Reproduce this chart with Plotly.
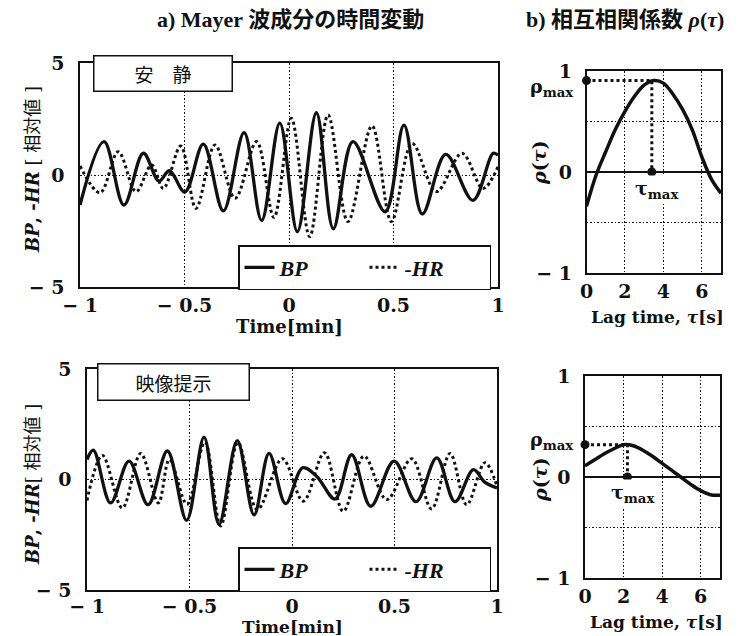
import plotly.graph_objects as go

# ---------------- data ----------------
# a) top panel: rest (安静)
rest_bp_t = [-1.0, -0.885, -0.79, -0.697, -0.622, -0.572, -0.498, -0.41, -0.314, -0.215, -0.131, -0.044,
             0.04, 0.131, 0.212, 0.306, 0.46, 0.55, 0.638, 0.75, 0.88, 0.977, 1.0]
rest_bp_v = [-1.34, 1.49, -1.34, 0.97, -0.27, 0.19, -0.76, 1.38, -1.6, 1.89, -2.03, 2.32,
             -2.53, 2.78, -2.4, 1.49, -1.64, 2.23, -1.74, 0.92, -1.13, 0.97, 0.88]
rest_hr_t = [-1.0, -0.904, -0.817, -0.732, -0.657, -0.601, -0.518, -0.445, -0.354, -0.258, -0.155, -0.072,
             0.011, 0.099, 0.187, 0.282, 0.397, 0.49, 0.589, 0.705, 0.828, 0.928, 1.0]
rest_hr_v = [0.4, -0.79, 1.04, -0.74, 0.45, -0.6, 1.29, -1.49, 1.34, -1.04, 1.49, -1.89,
             2.53, -2.75, 2.68, -2.08, 2.19, -2.08, 1.41, -0.74, 0.97, -0.6, 0.37]

# a) bottom panel: video (映像提示)
video_bp_t = [-1.0, -0.969, -0.885, -0.795, -0.702, -0.608, -0.514, -0.429, -0.356, -0.267, -0.185, -0.112,
              -0.031, 0.052, 0.12, 0.21, 0.291, 0.384, 0.498, 0.605, 0.706, 0.795, 0.885, 0.94, 1.0]
video_bp_v = [0.9, 1.33, -1.06, 0.83, -1.14, 1.29, -1.85, 1.92, -2.03, 1.76, -1.6, 1.18,
              -1.09, 0.53, 0.15, -0.88, 1.12, -1.21, 0.83, -1.0, 0.98, -1.0, 0.45, -0.12, -0.38]
video_hr_t = [-1.0, -0.925, -0.828, -0.738, -0.652, -0.598, -0.512, -0.425, -0.348, -0.264, -0.169, -0.047,
              0.055, 0.158, 0.25, 0.351, 0.462, 0.584, 0.681, 0.771, 0.852, 0.941, 1.0]
video_hr_v = [-0.95, 1.09, -1.29, 1.18, -1.06, 0.9, -1.12, 1.7, -2.1, 1.67, -1.36, 0.94,
              -0.98, 1.21, -1.44, 1.06, -0.91, 0.94, -1.33, 1.18, -1.14, 0.76, -0.3]

# b) cross-correlation
lag = [0, 0.5, 1, 1.5, 2, 2.5, 3, 3.5, 4, 4.5, 5, 5.5, 6, 6.5, 7]
rho_rest = [-0.34, -0.03, 0.2, 0.42, 0.6, 0.75, 0.86, 0.905, 0.88, 0.77, 0.62, 0.42, 0.15, -0.07, -0.21]
rho_video = [0.11, 0.17, 0.23, 0.28, 0.32, 0.31, 0.265, 0.205, 0.135, 0.065, -0.005, -0.075, -0.135, -0.175, -0.18]
tau_max_rest, rho_max_rest = 3.4, 0.905
tau_max_video, rho_max_video = 2.2, 0.32

time_ticks = [-1, -0.5, 0, 0.5, 1]
time_ticktext = ["− 1", "− 0.5", "0", "0.5", "1"]
amp_ticks = [-5, 0, 5]
amp_ticktext = ["− 5", "0", "5"]
lag_ticks = [0, 2, 4, 6]
rho_ticks = [-1, -0.5, 0, 0.5, 1]
rho_ticktext = ["− 1", "", "0", "", "1"]

# ---------------- figure ----------------
# the page body has an 8px margin, so the figure is drawn 8px in from the window corner
OFF = 8
W, H = 742 - OFF, 636 - OFF
def fx(p):
    return (p - OFF) / W
def fy(p):
    return 1 - (p - OFF) / H

SERIF = "DejaVu Serif, Noto Sans CJK JP"
INK = "#111111"

fig = go.Figure()

def wave(t, v, dash, xa, ya, name, legend, width):
    fig.add_trace(go.Scatter(x=t, y=v, mode="lines", name=name, legend=legend,
                             line=dict(color=INK, width=width, dash=dash, shape="spline", smoothing=1.0),
                             xaxis=xa, yaxis=ya, hoverinfo="skip"))

wave(rest_bp_t, rest_bp_v, "solid", "x", "y", "<b><i>BP</i></b>", "legend", 3.3)
wave(rest_hr_t, rest_hr_v, "dot", "x", "y", "<b><i>-HR</i></b>", "legend", 3)
wave(video_bp_t, video_bp_v, "solid", "x3", "y3", "<b><i>BP</i></b>", "legend2", 3.3)
wave(video_hr_t, video_hr_v, "dot", "x3", "y3", "<b><i>-HR</i></b>", "legend2", 3)

def corr(rho, tmax, rmax, xa, ya):
    fig.add_trace(go.Scatter(x=lag, y=rho, mode="lines", showlegend=False,
                             line=dict(color=INK, width=3.5, shape="spline", smoothing=1.0),
                             xaxis=xa, yaxis=ya, hoverinfo="skip"))
    fig.add_trace(go.Scatter(x=[0, tmax, tmax], y=[rmax, rmax, 0], mode="lines", showlegend=False,
                             line=dict(color=INK, width=3, dash="dot"),
                             xaxis=xa, yaxis=ya, hoverinfo="skip"))
    fig.add_trace(go.Scatter(x=[0, tmax], y=[rmax, 0], mode="markers", showlegend=False,
                             marker=dict(color=INK, size=9), cliponaxis=False,
                             xaxis=xa, yaxis=ya, hoverinfo="skip"))

corr(rho_rest, tau_max_rest, rho_max_rest, "x2", "y2")
corr(rho_video, tau_max_video, rho_max_video, "x4", "y4")

tickfont = dict(family=SERIF, size=19, color=INK, weight="bold")
grid = dict(showgrid=True, gridcolor=INK, gridwidth=1, griddash="1.5px,2px",
            showline=True, mirror=True, linecolor=INK, linewidth=1.6, ticks="",
            tickfont=tickfont, fixedrange=True, automargin=False)

fig.update_layout(
    width=W, height=H, margin=dict(l=0, r=0, t=0, b=0, autoexpand=False),
    paper_bgcolor="white", plot_bgcolor="white",
    xaxis=dict(domain=[fx(80), fx(498)], range=[-1, 1], tickvals=time_ticks, ticktext=time_ticktext,
               zeroline=False, anchor="y", ticklabelstandoff=0, **grid),
    yaxis=dict(domain=[fy(287), fy(63)], range=[-5, 5], tickvals=amp_ticks, ticktext=amp_ticktext,
               zeroline=False, anchor="x", ticklabelstandoff=10, **grid),
    xaxis2=dict(domain=[fx(586.5), fx(721)], range=[0, 7], tickvals=lag_ticks,
                zeroline=False, anchor="y2", ticklabelstandoff=0, **grid),
    yaxis2=dict(domain=[fy(273), fy(71)], range=[-1, 1], tickvals=rho_ticks, ticktext=rho_ticktext,
                zeroline=True, zerolinecolor=INK, zerolinewidth=2, anchor="x2", ticklabelstandoff=9, **grid),
    xaxis3=dict(domain=[fx(87), fx(497)], range=[-1, 1], tickvals=time_ticks, ticktext=time_ticktext,
                zeroline=False, anchor="y3", ticklabelstandoff=-2, **grid),
    yaxis3=dict(domain=[fy(590), fy(369)], range=[-5, 5], tickvals=amp_ticks, ticktext=amp_ticktext,
                zeroline=False, anchor="x3", ticklabelstandoff=10, **grid),
    xaxis4=dict(domain=[fx(585), fx(720)], range=[0, 7], tickvals=lag_ticks,
                zeroline=False, anchor="y4", ticklabelstandoff=0, **grid),
    yaxis4=dict(domain=[fy(578), fy(376)], range=[-1, 1], tickvals=rho_ticks, ticktext=rho_ticktext,
                zeroline=True, zerolinecolor=INK, zerolinewidth=2, anchor="x4", ticklabelstandoff=9, **grid),
    showlegend=True,
)

legend_common = dict(orientation="h", xanchor="left", yanchor="top", bgcolor="white",
                     bordercolor=INK, borderwidth=1.5,
                     font=dict(family="Liberation Serif", size=22, color=INK),
                     entrywidth=80, entrywidthmode="pixels", itemclick=False, itemdoubleclick=False)
fig.update_layout(
    legend=dict(x=fx(238), y=fy(245), **legend_common),
    legend2=dict(x=fx(238), y=fy(547), **legend_common),
)

ann = []
def text(x, y, s, size=18, family=SERIF, angle=0, xanchor="center", bg=None, weight="normal", **kw):
    d = dict(x=fx(x), y=fy(y), xref="paper", yref="paper", text=s, showarrow=False,
             font=dict(family=family, size=size, color=INK, weight=weight), textangle=angle,
             xanchor=xanchor, yanchor="middle")
    if bg:
        d["bgcolor"] = bg
    d.update(kw)
    ann.append(d)

TITLE_FONT = "Liberation Serif, Noto Sans CJK JP"
# panel titles
text(290, 20, "a) Mayer 波成分の時間変動", size=22, family=TITLE_FONT, weight="bold")
text(625, 20, "b) 相互相関係数 <i>ρ</i>(<i>τ</i>)", size=22, family=TITLE_FONT, weight="bold")

# condition boxes
text(162.7, 73.5, "安　静", size=19, family="Noto Sans CJK JP", bg="white",
     bordercolor=INK, borderwidth=1.5, width=137, height=34, borderpad=0)
text(173.5, 382, "映像提示", size=19, family="Noto Sans CJK JP", bg="white",
     bordercolor=INK, borderwidth=1.5, width=150, height=35, borderpad=0)

# axis titles
text(289, 326, "<b>Time[min]</b>", size=18)
text(292, 627, "<b>Time[min]</b>", size=17)
text(657, 317, "<b>Lag time, <i>τ</i>[s]</b>", size=17)
text(656, 622, "<b>Lag time, <i>τ</i>[s]</b>", size=17)
text(32, 170, "<b><i>BP</i>, -<i>HR</i></b> [ 相対値 ]", size=18, angle=-90)
text(32, 485, "<b><i>BP</i>, -<i>HR</i></b>[ 相対値 ]", size=18, angle=-90)
text(539, 163, "<b><i>ρ</i>(<i>τ</i>)</b>", size=19, angle=-90)
text(540, 480, "<b><i>ρ</i>(<i>τ</i>)</b>", size=19, angle=-90)

# rho_max / tau_max labels
text(576, 87, "<b>ρ<sub>max</sub></b>", size=19, xanchor="right")
text(576, 440, "<b>ρ<sub>max</sub></b>", size=19, xanchor="right")
text(657, 189, "<b>τ<sub>max</sub></b>", size=19, bg="white")
text(633, 493, "<b>τ<sub>max</sub></b>", size=19, bg="white")

fig.update_layout(annotations=ann)
fig.write_html("out.html")
